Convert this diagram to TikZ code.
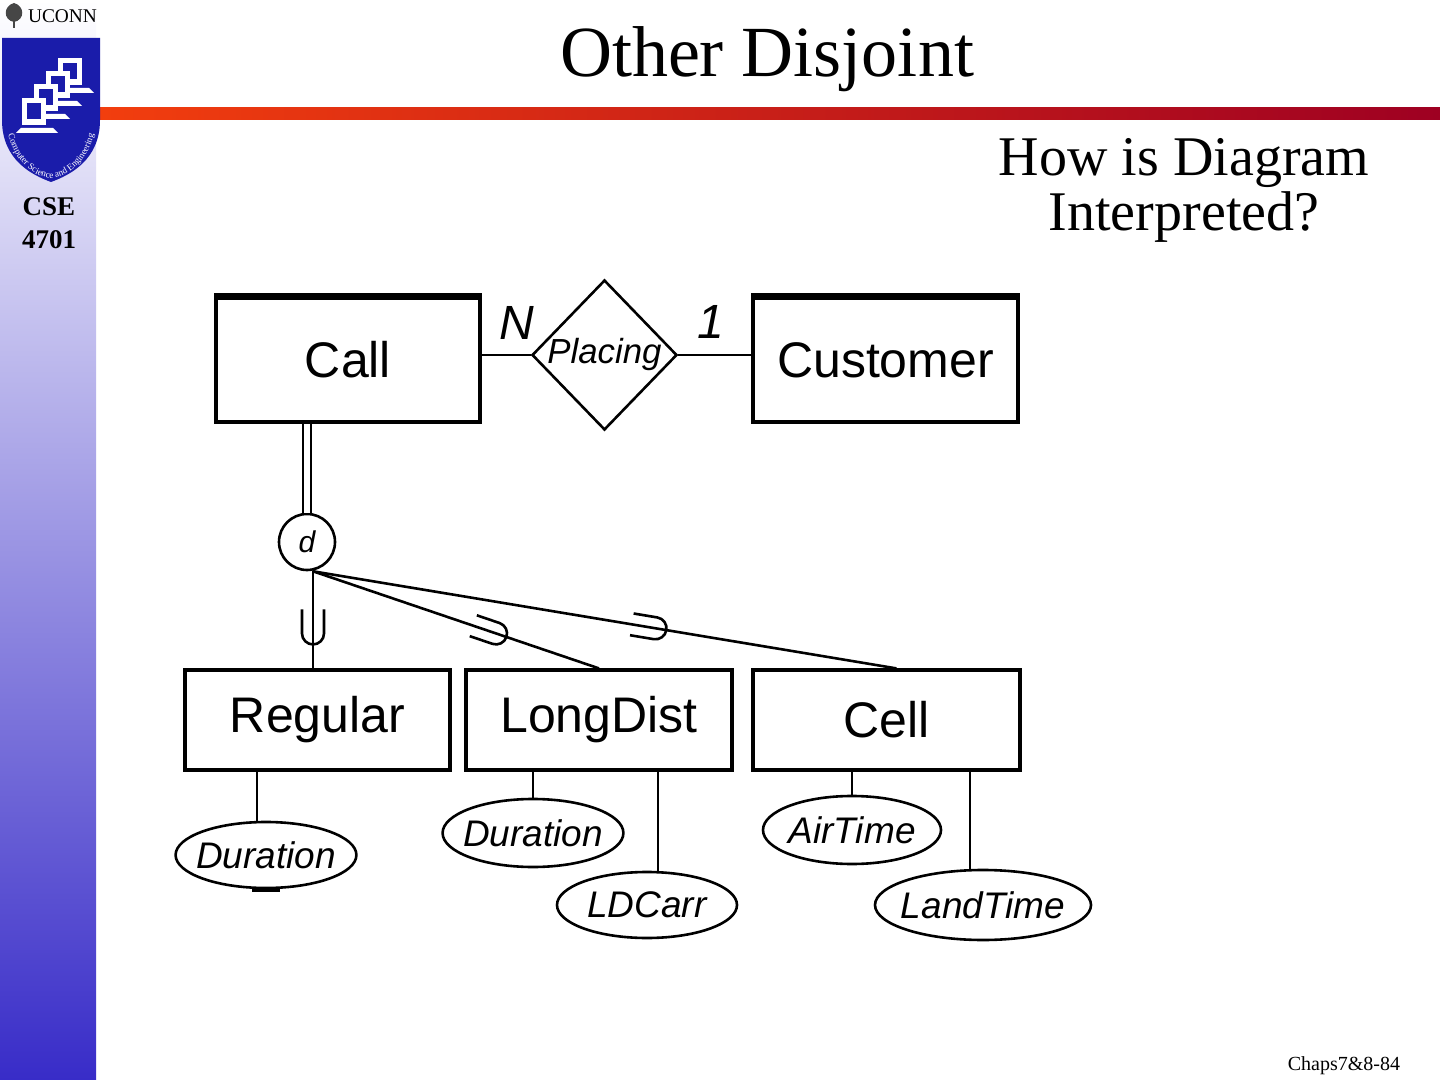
\documentclass[tikz,border=0pt]{standalone}
\usepackage{fontspec}
\setmainfont{Liberation Serif}
\setsansfont{Liberation Sans}
\usetikzlibrary{positioning, shapes.geometric, decorations.markings, decorations.text}

\definecolor{shieldblue}{RGB}{26,28,170}
\definecolor{sidebarblue}{RGB}{56,44,200}
\definecolor{barorange}{RGB}{242,62,14}
\definecolor{bardark}{RGB}{158,0,34}
\definecolor{leafgray}{RGB}{70,70,70}

\tikzset{subsetmark/.style={postaction={decorate, decoration={markings,
  mark=at position #1 with {\draw[line width=1.3pt] (-12pt,5.5pt) -- (0pt,5.5pt) arc[start angle=90, end angle=-90, radius=5.5pt] -- (-12pt,-5.5pt);}}}}}

\begin{document}
\begin{tikzpicture}[x=0.5pt, y=-0.5pt]
    \tikzstyle{entity}=[draw,line width=1.6pt,rectangle,inner sep=0pt,font=\fontsize{25}{30}\selectfont\sffamily]
    \tikzstyle{attrib}=[draw,line width=1.3pt,ellipse,inner xsep=-3pt,inner ysep=0pt,fill=white,font=\fontsize{18.5}{22}\selectfont\sffamily\itshape]
    \tikzstyle{relation}=[draw,line width=1.3pt,diamond,inner sep=-3pt,minimum width=72.5pt,minimum height=75pt,font=\fontsize{17.4}{20}\selectfont\sffamily\itshape]
    \tikzstyle{link}=[draw,line width=1.3pt,-,black]
    \tikzstyle{card}=[inner sep=0pt,font=\fontsize{24}{28}\selectfont\sffamily\itshape]
    \useasboundingbox (0,0) rectangle (1440,1080);
    \fill[white] (0,0) rectangle (1440,1080);
    % slide frame
    \shade[top color=white, bottom color=sidebarblue] (0,0) rectangle (96,1080);
    \shade[left color=barorange, right color=bardark] (100,108) rectangle (1440,120);
    \fill[leafgray] (14,3) .. controls (25,6) and (25,20) .. (14,22) .. controls (3,20) and (3,6) .. (14,3);
    \draw[leafgray, line width=1pt] (14,14) -- (14,28);
    \node[anchor=base, inner sep=0pt, font=\fontsize{9.7}{11}\selectfont] (uconn) at (62.5,23) {UCONN};
    \fill[shieldblue] (2,38) -- (100,38) -- (100,120) .. controls (100,160) and (70,175) .. (51,182) .. controls (32,175) and (2,160) .. (2,120) -- cycle;
    \foreach \mx/\my in {58/58, 46/71, 34/84, 22/98} {
        \fill[white] (\mx,\my) rectangle ({\mx+24},{\my+27});
        \fill[shieldblue] ({\mx+5},{\my+5}) rectangle ({\mx+19},{\my+21});
        \fill[white] ({\mx-6},{\my+35}) -- ({\mx+36},{\my+35}) -- ({\mx+31},{\my+30}) -- ({\mx-1},{\my+30}) -- cycle;
    }
    \path[decorate, decoration={text along path, text color=white, text align=center,
        text={|\fontsize{4.6}{5}\selectfont|Computer Science and Engineering}}]
        (5,110) .. controls (6,163) and (38,178) .. (51,178) .. controls (64,178) and (96,163) .. (97,110);
    \node[align=center, font=\fontsize{13.5}{16.5}\selectfont\bfseries] (course) at (49,223.5) {CSE\\4701};
    \node[anchor=base, font=\fontsize{36}{40}\selectfont] (title) at (767,77) {Other Disjoint};
    \node[align=center, font=\fontsize{28}{27.5}\selectfont] (question) at (1184,190) {How is Diagram\\Interpreted?};
    \node[anchor=base, font=\fontsize{10}{12}\selectfont] (pageno) at (1344,1070) {Chaps7\&8-84};
    % ER diagram
    \node[entity,minimum width=132pt,minimum height=62pt] (call) at (348,360) {Call};
    \node[entity,minimum width=132.5pt,minimum height=62pt] (cust) at (885.5,360) {Customer};
    \node[relation] (placing) at (604.5,355) {Placing};
    \node[card] (ncard) at (517,323) {N};
    \node[card] (onecard) at (711,322) {1};
    \node[draw,circle,line width=1.3pt,minimum size=28pt,inner sep=0pt,font=\fontsize{15}{18}\selectfont\sffamily\itshape] (d) at (307,542) {d};
    \node[entity,minimum width=132.5pt,minimum height=50pt] (reg) at (317.5,720) {Regular};
    \node[entity,minimum width=133pt,minimum height=50pt] (ld) at (599,720) {LongDist};
    \node[entity,minimum width=133.5pt,minimum height=50pt] (cell) at (886.5,720) {Cell};
    \node[attrib,minimum width=89pt,minimum height=33pt] (rdur) at (266,855) {Duration};
    \node[attrib,minimum width=89pt,minimum height=34pt] (ldur) at (533,833) {Duration};
    \node[attrib,minimum width=90pt,minimum height=33pt] (ldcarr) at (647,905) {LDCarr};
    \node[attrib,minimum width=89pt,minimum height=34pt] (air) at (852,830) {AirTime};
    \node[attrib,minimum width=108pt,minimum height=35pt] (land) at (983,905) {LandTime};
    \draw[line width=3pt] (call.north west) -- (call.north east);
    \draw[line width=3pt] (cust.north west) -- (cust.north east);
    \draw[line width=2.5pt] ([xshift=-7pt]rdur.south) -- ([xshift=7pt]rdur.south);
    \draw[link] (placing.west -| call.east) -- (placing.west);
    \draw[link] (placing.east) -- (placing.east -| cust.west);
    \draw[link,double,line width=1.2pt,double distance=2.8pt] (d.north) -- (d.north |- call.south);
    \coordinate (dfoot) at ([xshift=3pt]d.south);
    \draw[link,subsetmark=0.64] (dfoot) -- (dfoot |- reg.north);
    \draw[link,subsetmark=0.64] (dfoot) -- (ld.north);
    \draw[link,subsetmark=0.587] (dfoot) -- ([xshift=5pt]cell.north);
    \draw[link] ([xshift=-4.5pt]rdur.north) -- ([xshift=-4.5pt]rdur.north |- reg.south);
    \draw[link] (ldur.north) -- (ldur.north |- ld.south);
    \draw[link] ([xshift=5.5pt]ldcarr.north) -- ([xshift=5.5pt]ldcarr.north |- ld.south);
    \draw[link] (air.north) -- (air.north |- cell.south);
    \draw[link] ([xshift=-6.5pt]land.north) -- ([xshift=-6.5pt]land.north |- cell.south);
\end{tikzpicture}
\end{document}
